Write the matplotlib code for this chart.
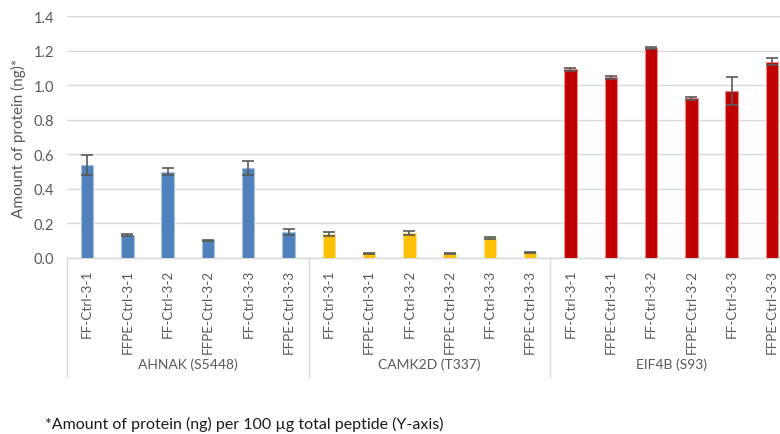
import matplotlib.pyplot as plt
import matplotlib.transforms as mtransforms

plt.rcParams['font.family'] = ['Lato', 'DejaVu Sans']

# Samples and phosphosites
samples = ['FF-Ctrl-3-1', 'FFPE-Ctrl-3-1', 'FF-Ctrl-3-2',
           'FFPE-Ctrl-3-2', 'FF-Ctrl-3-3', 'FFPE-Ctrl-3-3']
sites = ['AHNAK (S5448)', 'CAMK2D (T337)', 'EIF4B (S93)']

# Amount of protein (ng) and standard deviation for each site
ahnak = [0.54, 0.133, 0.499, 0.102, 0.522, 0.149]
ahnak_err = [0.057, 0.005, 0.02, 0.003, 0.04, 0.016]
camk2d = [0.139, 0.027, 0.143, 0.025, 0.116, 0.033]
camk2d_err = [0.011, 0.003, 0.012, 0.003, 0.006, 0.003]
eif4b = [1.091, 1.045, 1.213, 0.925, 0.968, 1.135]
eif4b_err = [0.009, 0.009, 0.005, 0.009, 0.08, 0.02]

colors = ['#4F81BD', '#FFC000', '#C00000']
edges = ['#A9C1E0', '#FFE08A', '#F08A8A']
TXT = '#595959'
GRID = '#D9D9D9'

fig = plt.figure(figsize=(7.8, 4.35), dpi=100)
W, H = 780, 435
ax = fig.add_axes([67 / W, (H - 259) / H, (792 - 67) / W, (259 - 17) / H])

n = len(samples)
series = [(ahnak, ahnak_err), (camk2d, camk2d_err), (eif4b, eif4b_err)]
for g, (vals, errs) in enumerate(series):
    xs = [g * n + i for i in range(n)]
    ax.bar(xs, vals, width=0.31, color=colors[g], edgecolor=edges[g],
           linewidth=0.8, zorder=3)
    ax.errorbar(xs, vals, yerr=errs, fmt='none', ecolor=TXT, elinewidth=1.2,
                capsize=4, capthick=1.2, zorder=4)

ax.set_xlim(-0.5, 3 * n - 0.5)
ax.set_ylim(0, 1.4)
ax.set_yticks([0, 0.2, 0.4, 0.6, 0.8, 1.0, 1.2, 1.4])
ax.set_yticklabels([f'{v:.1f}' for v in ax.get_yticks()])
ax.yaxis.grid(True, color=GRID, linewidth=1.0, zorder=0)
ax.set_axisbelow(True)
for s in ['left', 'right', 'top']:
    ax.spines[s].set_visible(False)
ax.spines['bottom'].set_color(GRID)
ax.spines['bottom'].set_linewidth(1.0)

ax.set_xticks(range(3 * n))
ax.set_xticklabels(samples * 3, rotation=90)
ax.tick_params(axis='x', length=0, pad=8, labelsize=9.7, labelcolor=TXT)
ax.tick_params(axis='y', length=0, pad=9, labelsize=10.5, labelcolor=TXT)

# Group separators and site labels under the sample labels
trans = mtransforms.blended_transform_factory(ax.transData, ax.transAxes)
sep_bottom = -(378 - 259) / (259 - 17)
for k in range(4):
    xsep = k * n - 0.5
    ax.plot([xsep, xsep], [0, sep_bottom], color=GRID, lw=1.0,
            transform=trans, clip_on=False)
for g, name in enumerate(sites):
    ax.text(g * n + (n - 1) / 2, -(365 - 259) / (259 - 17), name,
            transform=trans, ha='center', va='center', fontsize=10,
            color=TXT)

fig.text(18 / W, 1 - 138 / H, 'Amount of protein (ng)*', rotation=90,
         ha='center', va='center', fontsize=11, color=TXT)

fig.text(45 / W, 1 - 424 / H,
         '*Amount of protein (ng) per 100 µg total peptide (Y-axis)',
         ha='left', va='center', fontsize=11.5, color='#1a1a1a')

fig.savefig('out.png', dpi=100)
